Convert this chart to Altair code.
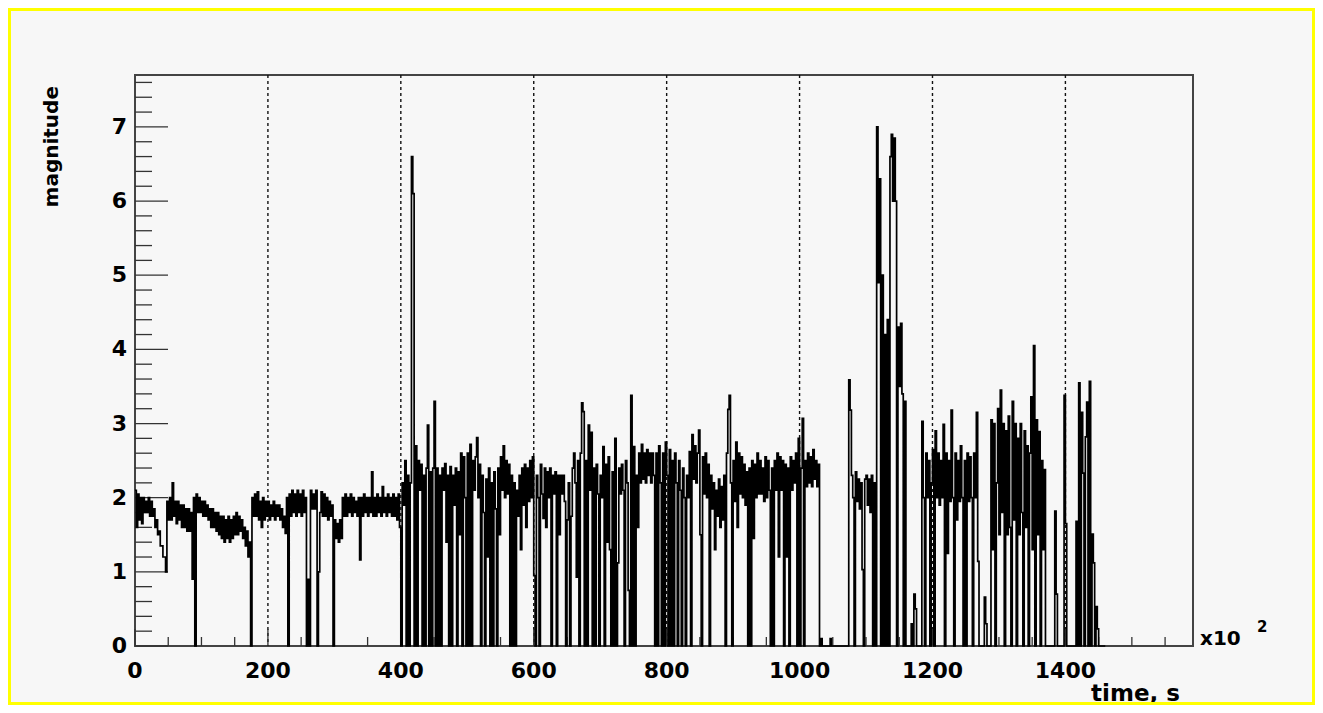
import altair as alt
import pandas as pd

# ---------------- data: magnitude per 2-unit time bin (time in units of 10^2 s) ----------------
BIN = 2

mag_0000 = [2.1, 1.6, 2.05, 1.7, 2.0, 1.65, 2.0, 1.8, 1.95, 1.8,
            2.0, 1.75, 1.95, 1.75, 1.85, 1.6, 1.7, 1.5, 1.55, 1.35,
            1.35, 1.2, 1.2, 1.0, 1.95, 1.7, 2.0, 1.7, 2.2, 1.75,
            1.95, 1.65, 1.95, 1.7, 1.9, 1.6, 1.9, 1.6, 1.85, 1.55,
            1.85, 1.55, 1.8, 0.9, 2.0, 0, 2.05, 1.8, 2.0, 1.8]
mag_0100 = [1.95, 1.75, 1.95, 1.75, 1.9, 1.7, 1.85, 1.6, 1.85, 1.6,
            1.8, 1.55, 1.8, 1.5, 1.75, 1.45, 1.75, 1.4, 1.7, 1.45,
            1.75, 1.4, 1.7, 1.45, 1.75, 1.5, 1.8, 1.5, 1.75, 1.55,
            1.7, 1.45, 1.6, 1.35, 1.55, 1.2, 1.4, 0, 2.0, 1.75,
            2.05, 1.75, 2.08, 1.7, 1.95, 1.6, 2.0, 1.7, 1.95, 1.75]
mag_0200 = [1.95, 1.7, 1.9, 1.75, 1.95, 1.7, 1.9, 1.75, 1.9, 1.7,
            1.85, 1.6, 1.75, 1.52, 2.0, 0, 2.05, 1.75, 2.1, 1.8,
            2.05, 1.75, 2.1, 1.8, 2.05, 1.75, 2.1, 1.8, 2.0, 0,
            0.9, 0, 2.1, 1.85, 2.05, 1.85, 2.1, 0, 1.0, 1.8,
            2.08, 1.75, 2.05, 1.75, 2.0, 1.7, 1.95, 1.75, 1.9, 0]
mag_0300 = [1.7, 1.45, 1.65, 1.4, 1.7, 1.45, 2.0, 1.75, 2.05, 1.75,
            2.0, 1.8, 2.05, 1.75, 2.0, 1.8, 1.95, 1.75, 2.0, 1.16,
            2.0, 1.75, 2.05, 1.8, 2.0, 1.75, 2.0, 1.8, 2.35, 1.75,
            2.0, 1.75, 2.05, 1.8, 2.0, 1.75, 2.15, 1.8, 2.0, 1.75,
            2.05, 1.8, 2.0, 1.75, 2.05, 1.75, 2.0, 1.7, 2.05, 1.6]
mag_0400 = [0, 2.2, 1.9, 2.5, 0, 2.3, 0, 2.2, 6.6, 6.1,
            0, 2.7, 0, 2.5, 2.1, 2.45, 0, 2.3, 0, 2.4,
            2.98, 0, 2.35, 0, 2.4, 3.3, 0, 2.4, 0, 2.3,
            0, 2.4, 2.1, 2.46, 1.4, 2.3, 0, 2.42, 0, 2.3,
            1.9, 2.4, 0, 2.35, 1.5, 2.6, 0, 2.55, 2.0, 0]
mag_0500 = [2.6, 0, 2.72, 0, 2.5, 2.1, 2.55, 2.81, 2.0, 2.45,
            0, 2.3, 1.8, 0, 2.25, 1.2, 2.4, 0, 2.2, 0,
            2.35, 1.85, 0, 2.4, 1.5, 2.55, 2.1, 2.7, 2.0, 2.5,
            2.05, 2.45, 0, 2.3, 0, 2.2, 0, 2.1, 1.75, 2.3,
            1.3, 2.4, 1.9, 2.45, 1.6, 2.4, 1.95, 2.5, 2.0, 2.55]
mag_0600 = [0.95, 0, 2.3, 2.0, 0, 2.45, 2.05, 1.72, 2.4, 1.6,
            2.35, 2.0, 2.4, 0, 2.3, 2.05, 2.35, 0, 2.3, 1.5,
            2.3, 2.05, 2.3, 1.95, 0, 1.7, 2.2, 0, 1.75, 2.4,
            2.6, 2.2, 0.93, 2.5, 0, 2.6, 3.28, 3.16, 0, 2.5,
            0, 2.98, 2.1, 2.88, 0, 2.4, 0, 2.45, 2.05, 0]
mag_0700 = [2.3, 2.0, 2.69, 0, 2.45, 1.4, 2.55, 1.3, 0, 2.35,
            0, 2.8, 0, 1.12, 2.4, 2.05, 2.45, 2.1, 0, 2.5,
            2.2, 0.75, 0, 3.38, 0, 2.69, 0, 2.3, 1.6, 2.6,
            2.2, 2.72, 2.25, 2.6, 2.2, 2.65, 2.3, 2.6, 2.2, 2.6,
            2.3, 0, 2.6, 0, 2.7, 2.2, 0, 2.6, 0, 2.75]
mag_0800 = [2.3, 0, 2.65, 0, 2.5, 0, 2.6, 2.2, 0, 2.5,
            2.1, 0, 2.4, 2.0, 0, 2.3, 2.0, 2.62, 0, 2.85,
            2.25, 2.7, 2.2, 2.6, 2.91, 1.5, 0, 2.55, 2.05, 2.6,
            2.0, 2.45, 0, 2.3, 1.85, 2.2, 1.3, 2.1, 1.75, 2.25,
            1.6, 2.15, 1.7, 2.3, 0, 2.6, 3.19, 3.38, 2.2, 0]
mag_0900 = [2.5, 1.95, 2.75, 1.6, 2.6, 2.05, 2.55, 2.0, 2.45, 1.9,
            2.35, 0, 2.4, 0, 2.5, 1.45, 2.45, 2.0, 2.6, 2.05,
            2.5, 2.05, 2.4, 1.95, 2.55, 2.0, 2.5, 2.1, 0, 2.4,
            0, 2.5, 2.1, 2.6, 1.2, 2.55, 2.1, 2.5, 0, 2.45,
            1.2, 2.4, 0, 2.55, 2.1, 2.5, 2.2, 2.6, 0, 2.8]
mag_1000 = [0, 2.4, 3.07, 0, 2.5, 2.15, 2.6, 2.2, 2.55, 2.15,
            2.65, 2.25, 2.5, 2.15, 2.45, 0, 0.1, 0, 0, 0,
            0, 0, 0, 0.1, 0, 0, 0, 0, 0, 0,
            0, 0, 0, 0, 0, 0, 0, 3.59, 3.18, 2.3,
            2.0, 0, 2.35, 1.95, 2.25, 1.85, 2.2, 1.03, 0, 2.25]
mag_1100 = [2.3, 1.9, 2.25, 1.8, 2.3, 0, 2.2, 0, 7.0, 4.9,
            6.3, 0, 5.0, 0, 4.2, 0, 4.4, 0, 6.6, 6.9,
            6.0, 6.85, 6.0, 0, 4.3, 3.5, 4.35, 3.4, 0, 3.3,
            0, 0, 0, 0, 0.3, 0, 0.7, 0.5, 0, 0,
            0, 0, 3.03, 2.0, 0, 2.6, 2.0, 2.5, 0, 2.2]
mag_1200 = [2.65, 0, 2.9, 2.0, 2.6, 1.9, 2.5, 2.0, 2.99, 0,
            2.6, 1.25, 2.5, 1.95, 3.18, 2.0, 0, 2.6, 1.7, 2.5,
            1.95, 2.7, 2.0, 0, 2.5, 0, 2.6, 1.95, 2.55, 2.0,
            0, 2.6, 2.0, 3.15, 1.14, 0, 0, 0, 0, 0.66,
            0.3, 0, 0, 0, 3.05, 1.3, 3.0, 0, 2.2, 3.2]
mag_1300 = [1.5, 3.45, 1.8, 3.0, 0, 2.9, 1.5, 3.1, 1.6, 0,
            3.3, 1.7, 3.0, 0, 2.8, 1.5, 3.0, 1.8, 0, 2.9,
            1.6, 2.7, 0, 2.6, 3.36, 1.3, 4.05, 0, 3.05, 1.5,
            2.89, 0, 2.5, 1.3, 2.38, 0, 0, 0, 0, 0,
            0, 0, 1.82, 0.7, 0, 0, 0, 0, 0, 3.38]
mag_1400 = [1.65, 0, 0, 0, 0, 0, 0, 0, 1.68, 0,
            3.55, 0, 3.15, 2.33, 0, 2.82, 3.29, 0, 3.57, 0,
            1.51, 1.12, 0, 0.53, 0.23, 0, 0, 0, 0, 0]

blocks = {0: mag_0000, 100: mag_0100, 200: mag_0200, 300: mag_0300, 400: mag_0400,
          500: mag_0500, 600: mag_0600, 700: mag_0700, 800: mag_0800, 900: mag_0900,
          1000: mag_1000, 1100: mag_1100, 1200: mag_1200, 1300: mag_1300, 1400: mag_1400}

rows = []
for start, vals in blocks.items():
    for i, v in enumerate(vals[:50]):
        rows.append({"t": start + BIN * i, "m": v})
rows.append({"t": 1460, "m": 0})
df = pd.DataFrame(rows).sort_values("t")

x_labels = [0, 200, 400, 600, 800, 1000, 1200, 1400]
y_labels = [0, 1, 2, 3, 4, 5, 6, 7]
x_minor = [50, 100, 150, 250, 300, 350, 450, 500, 550, 650, 700, 750, 850, 900, 950,
           1050, 1100, 1150, 1250, 1300, 1350, 1450, 1500, 1550]
y_minor = [round(i * 0.2, 1) for i in range(39) if i % 5]

# ---------------- layout ----------------
W, H = 1058, 571
X_MAX, Y_MAX = 1592, 7.7
FONT = "DejaVu Sans"
xs = alt.Scale(domain=[0, X_MAX], nice=False, zero=False)
ys = alt.Scale(domain=[0, Y_MAX], nice=False, zero=False)

grid = alt.Chart(pd.DataFrame({"g": x_labels[1:]})).mark_rule(
    color="#111", strokeWidth=1.4, strokeDash=[3, 3]
).encode(x=alt.X("g:Q", scale=xs, axis=None))

tick_style = dict(color="#333", strokeWidth=1.3)
ytick_major = alt.Chart(pd.DataFrame({"v": y_labels})).mark_rule(**tick_style).encode(
    y=alt.Y("v:Q", scale=ys, axis=None), x=alt.value(0), x2=alt.value(33))
ytick_minor = alt.Chart(pd.DataFrame({"v": y_minor})).mark_rule(**tick_style).encode(
    y=alt.Y("v:Q", scale=ys, axis=None), x=alt.value(0), x2=alt.value(17))
xtick_major = alt.Chart(pd.DataFrame({"v": x_labels})).mark_rule(**tick_style).encode(
    x=alt.X("v:Q", scale=xs, axis=None), y=alt.value(H), y2=alt.value(H - 17))
xtick_minor = alt.Chart(pd.DataFrame({"v": x_minor})).mark_rule(**tick_style).encode(
    x=alt.X("v:Q", scale=xs, axis=None), y=alt.value(H), y2=alt.value(H - 9))

line = alt.Chart(df).mark_line(interpolate="step-after", color="black", strokeWidth=1.7).encode(
    x=alt.X("t:Q", scale=xs, axis=None),
    y=alt.Y("m:Q", scale=ys, axis=None),
)

txt = dict(font=FONT, fontWeight="bold", color="black")
xlab = alt.Chart(pd.DataFrame({"v": x_labels})).mark_text(
    align="center", baseline="top", fontSize=22, **txt).encode(
    x=alt.X("v:Q", scale=xs, axis=None), y=alt.value(H + 15), text=alt.Text("v:Q", format="d"))
ylab = alt.Chart(pd.DataFrame({"v": y_labels})).mark_text(
    align="right", baseline="middle", fontSize=22, **txt).encode(
    y=alt.Y("v:Q", scale=ys, axis=None), x=alt.value(-8), text=alt.Text("v:Q", format="d"))

one = pd.DataFrame({"a": [0]})
xtitle = alt.Chart(one).mark_text(align="right", baseline="alphabetic", fontSize=23, **txt).encode(
    x=alt.value(1045), y=alt.value(H + 55), text=alt.value("time, s"))
ytitle = alt.Chart(one).mark_text(align="right", baseline="alphabetic", fontSize=20, angle=270,
                                  **txt).encode(
    x=alt.value(-77), y=alt.value(11), text=alt.value("magnitude"))
mult = alt.Chart(one).mark_text(align="left", baseline="alphabetic", fontSize=20, **txt).encode(
    x=alt.value(W + 7), y=alt.value(H - 1), text=alt.value("x10"))
mult_exp = alt.Chart(one).mark_text(align="left", baseline="alphabetic", fontSize=15, **txt).encode(
    x=alt.value(W + 64), y=alt.value(H - 14), text=alt.value("2"))

border = alt.Chart(one).mark_rect(filled=False, stroke="#ffff00", strokeWidth=3).encode(
    x=alt.value(-125.5), x2=alt.value(W + 120.5), y=alt.value(-65.5), y2=alt.value(H + 57.5))

chart = alt.layer(grid, ytick_major, ytick_minor, xtick_major, xtick_minor, line,
                  xlab, ylab, xtitle, ytitle, mult, mult_exp, border).properties(
    width=W, height=H,
    padding={"left": 127, "top": 67, "right": 122, "bottom": 59},
    autosize=alt.AutoSizeParams(type="none"),
).configure(background="#f7f7f7").configure_view(stroke="#444", strokeWidth=2)

chart.save("out.html", embed_options={"renderer": "svg", "actions": False})
